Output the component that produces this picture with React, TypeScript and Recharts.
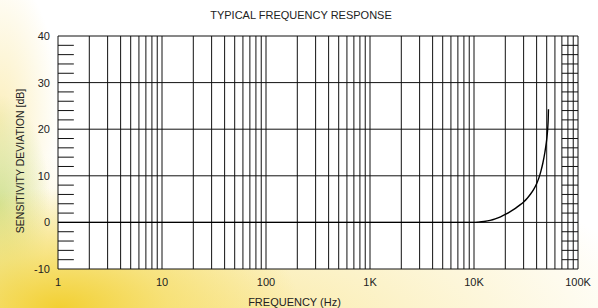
import React from 'react';
import { LineChart, Line, XAxis, YAxis, CartesianGrid, ReferenceLine } from 'recharts';

const freqTicks = [1, 10, 100, 1000, 10000, 100000];
const freqTickLabels = ['1', '10', '100', '1K', '10K', '100K'];
const dbTicks = [-10, 0, 10, 20, 30, 40];
const minorDb = [-8, -6, -4, -2, 2, 4, 6, 8, 12, 14, 16, 18, 22, 24, 26, 28, 32, 34, 36, 38];
const decades = [1, 10, 100, 1000, 10000];
const mantissas = [1, 2, 3, 4, 5, 6, 7, 8, 9];
const hatchFreqs = [70000, 100000];
const leftTickEnd = 1.42;

const responseFreq = [1, 10, 100, 1000, 10000, 11000, 12500, 14300, 16000, 18000, 20000, 22500, 25000, 27500, 30000, 32500, 35000, 37500, 40000, 42000, 44000, 46000, 48000, 49500, 50500, 51200, 51700, 52000];
const responseDb = [0, 0, 0, 0, 0, 0.05, 0.18, 0.42, 0.75, 1.2, 1.7, 2.35, 3.0, 3.7, 4.4, 5.2, 6.1, 7.1, 8.3, 9.5, 11.0, 12.8, 15.0, 17.0, 18.7, 20.3, 22.2, 24.3];

const data = responseFreq.map((f, i) => ({ f, db: responseDb[i] }));
const gridFreqs = [...decades.flatMap((d) => mantissas.map((m) => m * d)), 100000];

const FONT = '"Liberation Sans", Arial, sans-serif';

export default function App() {
  return (
    <div
      style={{
        position: 'fixed',
        left: 0,
        top: 0,
        width: 598,
        height: 308,
        overflow: 'hidden',
        fontFamily: FONT,
        background:
          'radial-gradient(ellipse 240px 120px at 60px 308px, rgba(242,208,50,1) 0%, rgba(245,220,95,0.7) 45%, rgba(255,255,255,0) 100%),' +
          'radial-gradient(ellipse 50px 110px at 0px 205px, rgba(195,220,130,0.75) 0%, rgba(255,255,255,0) 100%),' +
          'radial-gradient(ellipse 440px 190px at 220px 330px, rgba(248,226,130,0.75) 0%, rgba(255,255,255,0) 100%),' +
          'radial-gradient(ellipse 60px 150px at 0px 120px, rgba(250,232,160,0.7) 0%, rgba(255,255,255,0) 100%),' +
          '#ffffff',
      }}
    >
      <LineChart
        width={598}
        height={308}
        data={data}
        margin={{ top: 36, right: 20, bottom: 0, left: 0 }}
      >
        <CartesianGrid vertical={false} stroke="#111" strokeWidth={1} fill="#ffffff" fillOpacity={1} />
        <XAxis
          dataKey="f"
          type="number"
          scale="log"
          domain={[1, 100000]}
          allowDataOverflow
          ticks={freqTicks}
          tickFormatter={(v: number) => freqTickLabels[freqTicks.indexOf(v)] ?? String(v)}
          axisLine={false}
          tickLine={false}
          tickMargin={3}
          height={39}
          tick={{ fill: '#222', fontSize: 11, fontFamily: FONT }}
          interval={0}
        />
        <YAxis
          type="number"
          domain={[-10, 40]}
          ticks={dbTicks}
          axisLine={false}
          tickLine={false}
          width={58}
          tick={{ fill: '#222', fontSize: 11, fontFamily: FONT }}
          interval={0}
        />
        {gridFreqs.map((f) => (
          <ReferenceLine key={'v' + f} x={f} stroke="#111" strokeWidth={1} ifOverflow="extendDomain" />
        ))}
        {minorDb.map((v) => (
          <ReferenceLine
            key={'l' + v}
            segment={[
              { x: 1, y: v },
              { x: leftTickEnd, y: v },
            ]}
            stroke="#111"
            strokeWidth={1}
          />
        ))}
        {minorDb.map((v) => (
          <ReferenceLine
            key={'r' + v}
            segment={[
              { x: hatchFreqs[0], y: v },
              { x: hatchFreqs[1], y: v },
            ]}
            stroke="#111"
            strokeWidth={1}
          />
        ))}
        <Line
          dataKey="db"
          type="monotone"
          stroke="#000"
          strokeWidth={1.4}
          dot={false}
          isAnimationActive={false}
        />
      </LineChart>
      <div
        style={{
          position: 'absolute',
          left: 301,
          top: 15,
          transform: 'translate(-50%, -50%)',
          fontSize: 11,
          color: '#222',
          whiteSpace: 'nowrap',
        }}
      >
        TYPICAL FREQUENCY RESPONSE
      </div>
      <div
        style={{
          position: 'absolute',
          left: 294.5,
          top: 302,
          transform: 'translate(-50%, -50%)',
          fontSize: 11,
          color: '#222',
          whiteSpace: 'nowrap',
        }}
      >
        FREQUENCY (Hz)
      </div>
      <div
        style={{
          position: 'absolute',
          left: 20,
          top: 160.5,
          transform: 'translate(-50%, -50%) rotate(-90deg)',
          fontSize: 10.5,
          color: '#222',
          whiteSpace: 'nowrap',
        }}
      >
        SENSITIVITY DEVIATION [dB]
      </div>
    </div>
  );
}
